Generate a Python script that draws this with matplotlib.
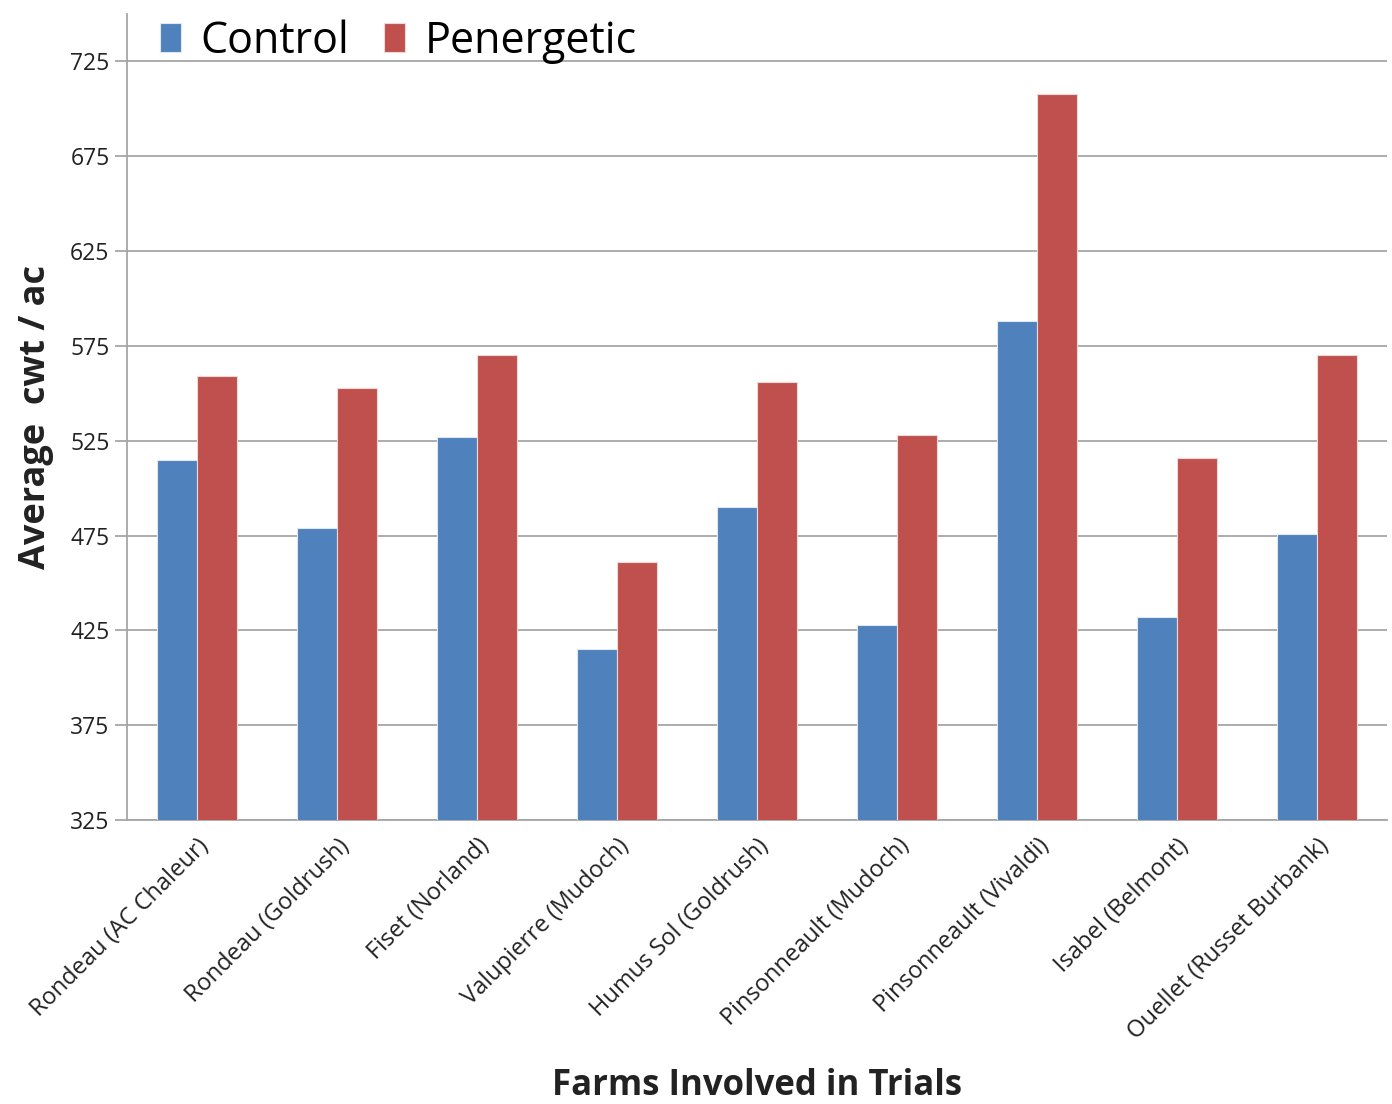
import matplotlib
matplotlib.use("Agg")
import matplotlib.pyplot as plt
import numpy as np

plt.rcParams['font.family'] = ['Open Sans', 'DejaVu Sans']

farms = ["Rondeau (AC Chaleur)", "Rondeau (Goldrush)", "Fiset (Norland)", "Valupierre (Mudoch)",
         "Humus Sol (Goldrush)", "Pinsonneault (Mudoch)", "Pinsonneault (Vivaldi)", "Isabel (Belmont)",
         "Ouellet (Russet Burbank)"]
control = [515, 479, 527, 415, 490, 428, 588, 432, 476]
penergetic = [559, 553, 570, 461, 556, 528, 708, 516, 570]

fig = plt.figure(figsize=(13.92, 11.04), dpi=100)
ax = fig.add_axes([0.0912, 0.2572, 0.9052, 0.7301])

x = np.arange(len(farms))
w = 0.286
ax.bar(x - w / 2, control, w, color='#4f81bd', edgecolor='#dfe7f2', linewidth=0.8, label='Control', zorder=3)
ax.bar(x + w / 2, penergetic, w, color='#c0504d', edgecolor='#f0d8d7', linewidth=0.8, label='Penergetic', zorder=3)

ax.set_ylim(325, 750)
ax.set_xlim(-0.5, len(farms) - 0.5)
ax.set_yticks(np.arange(325, 726, 50))
ax.yaxis.grid(True, color='#a6a6a6', linewidth=1.3, zorder=0)
ax.tick_params(axis='y', labelsize=16.5, length=9, width=1.3, color='#a6a6a6', labelcolor='#222222')
ax.tick_params(axis='x', length=0, pad=10)
ax.set_xticks(x)
ax.set_xticklabels(farms, rotation=45, ha='right', rotation_mode='anchor', fontsize=17, color='#222222')

for s in ['top', 'right']:
    ax.spines[s].set_visible(False)
ax.spines['left'].set_color('#a6a6a6')
ax.spines['left'].set_linewidth(1.3)
ax.spines['bottom'].set_color('#a6a6a6')
ax.spines['bottom'].set_linewidth(1.3)

ax.set_ylabel('Average  cwt / ac', fontsize=26, fontweight='bold', color='#222222', labelpad=12)
fig.text(0.544, 0.016, 'Farms Involved in Trials', fontsize=25, fontweight='bold', color='#222222',
         ha='center', va='center')

ax.legend(loc='upper left', bbox_to_anchor=(0.009, 1.02), ncol=2, frameon=False, fontsize=31,
          handlelength=0.5, handleheight=0.65, handletextpad=0.45, columnspacing=0.8, borderpad=0)

fig.savefig('out.png', dpi=100)
